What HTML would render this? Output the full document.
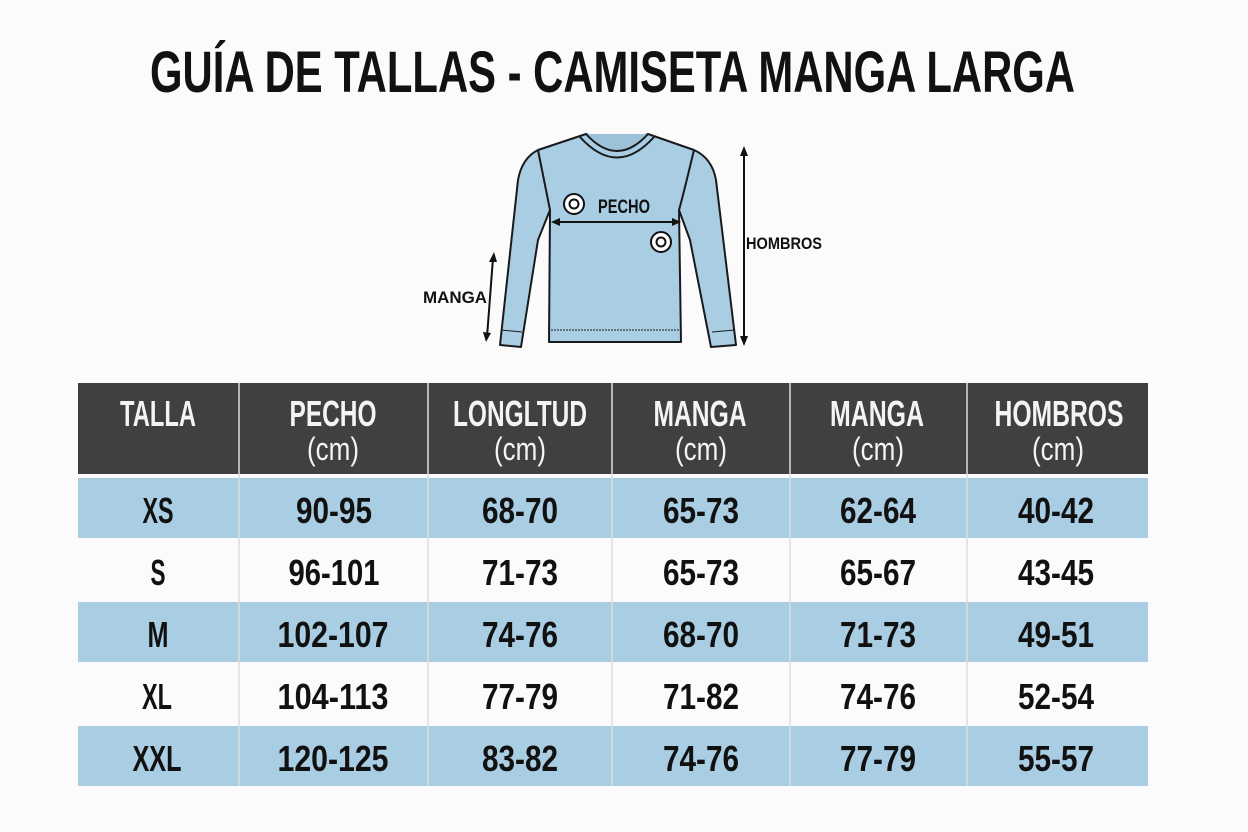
<!DOCTYPE html>
<html><head><meta charset="utf-8"><style>
html,body{margin:0;padding:0;background:#fbfbfb;}
svg{display:block}
text{font-family:"Liberation Sans Narrow","Liberation Sans",sans-serif;font-weight:bold;}
</style></head><body>
<svg width="1248" height="832" viewBox="0 0 1248 832" xmlns="http://www.w3.org/2000/svg">
<rect width="1248" height="832" fill="#fbfbfb"/>
<text x="150" y="92" font-size="58" textLength="925" lengthAdjust="spacingAndGlyphs" fill="#111">GUÍA DE TALLAS - CAMISETA MANGA LARGA</text>
<!-- shirt -->
<g stroke="#1a1a1a" stroke-width="2" fill="#a9cde3" stroke-linejoin="round">
<path d="M586 134 L538 150 Q522 158 518 180 L500 345 L521 347 L538 240 L550 210 L549 342 L681 342 L679 210 L690 240 L711 347 L736 345 L716 180 Q712 158 694 150 L648 134 Q617 146 586 134 Z"/>
<path d="M586 134 Q617 168 648 134" fill="#9cc2da"/>
<path d="M580 137 Q617 178 654 137" fill="none"/>
<path d="M538 150 Q548 200 550 210" fill="none"/>
<path d="M694 150 Q682 200 679 210" fill="none"/>
<path d="M501 330 L522 332 M712 332 L735 330" fill="none" stroke-width="1"/>
<path d="M551 330 L679 330" fill="none" stroke-width="1" stroke-dasharray="2 1"/>
</g>
<g stroke="#111" stroke-width="2" fill="#111">
<line x1="556" y1="222" x2="676" y2="222"/>
<path d="M551 222 L560 218 L560 226Z M681 222 L672 218 L672 226Z" stroke="none"/>
<line x1="744" y1="152" x2="744" y2="340"/>
<path d="M744 146 L740 156 L748 156Z M744 346 L740 336 L748 336Z" stroke="none"/>
<line x1="493" y1="258" x2="487" y2="337"/>
<path d="M494 252 L489 262 L497 262Z M486 342 L483 332 L491 333Z" stroke="none"/>
</g>
<g fill="#fff" stroke="#111" stroke-width="2">
<circle cx="574" cy="204" r="10"/><circle cx="574" cy="204" r="4.5"/>
<circle cx="661" cy="242" r="10"/><circle cx="661" cy="242" r="4.5"/>
</g>
<text x="598" y="213" font-size="19" textLength="52" lengthAdjust="spacingAndGlyphs" fill="#111">PECHO</text>
<text x="746" y="249" font-size="17" textLength="76" lengthAdjust="spacingAndGlyphs" fill="#111">HOMBROS</text>
<text x="423" y="303" font-size="17" textLength="64" lengthAdjust="spacingAndGlyphs" fill="#111">MANGA</text>
<!-- table -->
<rect x="78" y="383" width="1070" height="91" fill="#404040"/>
<g fill="#a9cde3">
<rect x="78" y="478" width="1070" height="60"/>
<rect x="78" y="602" width="1070" height="60"/>
<rect x="78" y="726" width="1070" height="60"/>
</g>
<g stroke="#ddd" stroke-width="1.5">
<line x1="239" y1="383" x2="239" y2="786"/><line x1="428" y1="383" x2="428" y2="786"/>
<line x1="612" y1="383" x2="612" y2="786"/><line x1="790" y1="383" x2="790" y2="786"/>
<line x1="967" y1="383" x2="967" y2="786"/>
</g>
<g fill="#f4f4f4" font-size="36" text-anchor="middle" lengthAdjust="spacingAndGlyphs">
<text x="158" y="426" textLength="76" lengthAdjust="spacingAndGlyphs">TALLA</text>
<text x="333" y="426" textLength="87" lengthAdjust="spacingAndGlyphs">PECHO</text>
<text x="520" y="426" textLength="134" lengthAdjust="spacingAndGlyphs">LONGLTUD</text>
<text x="700" y="426" textLength="93" lengthAdjust="spacingAndGlyphs">MANGA</text>
<text x="877" y="426" textLength="94" lengthAdjust="spacingAndGlyphs">MANGA</text>
<text x="1059" y="426" textLength="129" lengthAdjust="spacingAndGlyphs">HOMBROS</text>
</g>
<g fill="#f4f4f4" font-size="32" text-anchor="middle" font-weight="normal">
<text x="333" y="460" textLength="52" lengthAdjust="spacingAndGlyphs" style="font-weight:normal">(cm)</text>
<text x="520" y="460" textLength="52" lengthAdjust="spacingAndGlyphs" style="font-weight:normal">(cm)</text>
<text x="701" y="460" textLength="52" lengthAdjust="spacingAndGlyphs" style="font-weight:normal">(cm)</text>
<text x="878" y="460" textLength="52" lengthAdjust="spacingAndGlyphs" style="font-weight:normal">(cm)</text>
<text x="1058" y="460" textLength="52" lengthAdjust="spacingAndGlyphs" style="font-weight:normal">(cm)</text>
</g>
<g fill="#111" font-size="36" text-anchor="middle">
<text x="158" y="523" textLength="31" lengthAdjust="spacingAndGlyphs">XS</text><text x="334" y="523" textLength="76" lengthAdjust="spacingAndGlyphs">90-95</text><text x="520" y="523" textLength="76" lengthAdjust="spacingAndGlyphs">68-70</text><text x="701" y="523" textLength="76" lengthAdjust="spacingAndGlyphs">65-73</text><text x="878" y="523" textLength="76" lengthAdjust="spacingAndGlyphs">62-64</text><text x="1056" y="523" textLength="76" lengthAdjust="spacingAndGlyphs">40-42</text>
<text x="158" y="585" textLength="15" lengthAdjust="spacingAndGlyphs">S</text><text x="334" y="585" textLength="91" lengthAdjust="spacingAndGlyphs">96-101</text><text x="520" y="585" textLength="76" lengthAdjust="spacingAndGlyphs">71-73</text><text x="701" y="585" textLength="76" lengthAdjust="spacingAndGlyphs">65-73</text><text x="878" y="585" textLength="76" lengthAdjust="spacingAndGlyphs">65-67</text><text x="1056" y="585" textLength="76" lengthAdjust="spacingAndGlyphs">43-45</text>
<text x="158" y="647" textLength="21" lengthAdjust="spacingAndGlyphs">M</text><text x="333" y="647" textLength="111" lengthAdjust="spacingAndGlyphs">102-107</text><text x="520" y="647" textLength="76" lengthAdjust="spacingAndGlyphs">74-76</text><text x="701" y="647" textLength="76" lengthAdjust="spacingAndGlyphs">68-70</text><text x="878" y="647" textLength="76" lengthAdjust="spacingAndGlyphs">71-73</text><text x="1056" y="647" textLength="76" lengthAdjust="spacingAndGlyphs">49-51</text>
<text x="157" y="709" textLength="30" lengthAdjust="spacingAndGlyphs">XL</text><text x="333" y="709" textLength="111" lengthAdjust="spacingAndGlyphs">104-113</text><text x="520" y="709" textLength="76" lengthAdjust="spacingAndGlyphs">77-79</text><text x="701" y="709" textLength="76" lengthAdjust="spacingAndGlyphs">71-82</text><text x="878" y="709" textLength="76" lengthAdjust="spacingAndGlyphs">74-76</text><text x="1056" y="709" textLength="76" lengthAdjust="spacingAndGlyphs">52-54</text>
<text x="157" y="771" textLength="49" lengthAdjust="spacingAndGlyphs">XXL</text><text x="333" y="771" textLength="111" lengthAdjust="spacingAndGlyphs">120-125</text><text x="520" y="771" textLength="76" lengthAdjust="spacingAndGlyphs">83-82</text><text x="701" y="771" textLength="76" lengthAdjust="spacingAndGlyphs">74-76</text><text x="878" y="771" textLength="76" lengthAdjust="spacingAndGlyphs">77-79</text><text x="1056" y="771" textLength="76" lengthAdjust="spacingAndGlyphs">55-57</text>
</g>
</svg>
</body></html>
